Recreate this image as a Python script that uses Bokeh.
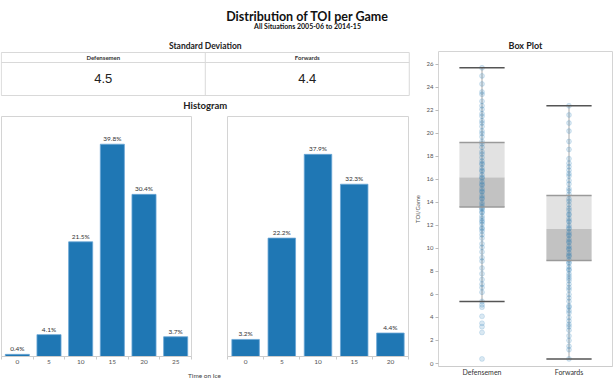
from bokeh.plotting import figure
from bokeh.layouts import column, row
from bokeh.models import Range1d, FactorRange, FixedTicker
from bokeh.embed import file_html
from bokeh.resources import INLINE
from bokeh.core.properties import value

# ---------------- data ----------------
title_text = "Distribution of TOI per Game"
subtitle_text = "All Situations 2005-06 to 2014-15"
positions = ["Defensemen", "Forwards"]
std_dev = [4.5, 4.4]

def_bins = [0, 5, 10, 15, 20, 25]
def_pct = [0.4, 4.1, 21.5, 39.8, 30.4, 3.7]
fwd_bins = [0, 5, 10, 15, 20]
fwd_pct = [3.2, 22.2, 37.9, 32.3, 4.4]

box_low = [5.4, 0.4]
box_q1 = [13.6, 8.95]
box_median = [16.2, 11.7]
box_q3 = [19.2, 14.6]
box_high = [25.7, 22.4]
box_ticks = [0, 2, 4, 6, 8, 10, 12, 14, 16, 18, 20, 22, 24, 26]

def_toi = [0.4, 2.7, 3.2, 3.5, 4.1, 4.9, 5.1, 5.4, 6.2, 6.6, 6.9, 7.3, 7.8, 8.3, 8.9,
           9.2, 9.7, 10.1, 10.4, 10.9, 11.2, 11.5, 11.7, 11.8, 12.1, 12.3, 12.4, 12.6,
           12.8, 13.1, 13.2, 13.4, 13.5, 13.6, 13.8, 14.0, 14.3, 14.4, 14.6, 14.9, 15.0,
           15.2, 15.5, 15.6, 15.8, 16.1, 16.2, 16.4, 16.7, 16.8, 17.0, 17.3, 17.4, 17.6,
           17.9, 18.2, 18.4, 18.8, 19.1, 19.3, 19.7, 20.0, 20.2, 20.6, 20.9, 21.1, 21.5,
           21.7, 22.1, 22.4, 22.8, 23.4, 23.6, 24.3, 25.0, 25.7]
fwd_toi = [0.4, 1.2, 1.5, 2.0, 2.4, 2.9, 3.2, 3.4, 3.7, 4.0, 4.4, 4.6, 4.9, 5.0, 5.4,
           5.7, 6.0, 6.4, 6.6, 6.9, 7.2, 7.4, 7.6, 7.8, 8.1, 8.2, 8.4, 8.7, 8.8, 9.0,
           9.3, 9.4, 9.6, 9.9, 10.0, 10.2, 10.5, 10.6, 10.8, 11.1, 11.2, 11.4, 11.7,
           11.8, 12.0, 12.3, 12.4, 12.6, 12.9, 13.0, 13.3, 13.5, 13.8, 14.1, 14.3, 14.7,
           15.0, 15.2, 15.6, 15.9, 16.3, 16.5, 16.8, 17.1, 17.4, 17.8, 18.6, 19.3,
           20.2, 20.9, 21.6, 22.4]

FONT = "Lato"
BLUE = "#1f77b4"
GRID = "#d9d9d9"


def blank(width, height, xr, yr):
    p = figure(width=width, height=height, x_range=xr, y_range=yr,
               x_axis_type=None, y_axis_type=None, output_backend="svg",
               toolbar_location=None, min_border=0)
    p.outline_line_color = None
    return p


def txt(p, x, y, t, size, bold=False, color="#222", font=FONT, **kw):
    p.text(x=x, y=y, text=t, text_font=value(font), text_font_size=size,
           text_font_style="bold" if bold else "normal", text_color=color,
           text_align="center", text_baseline="middle", **kw)


# ---------------- header ----------------
head = blank(613, 36, Range1d(0, 613), Range1d(0, 36))
txt(head, [307], [20], [title_text], "12.5px", bold=True, color="#111")
txt(head, [307], [11], [subtitle_text], "7px", bold=True, color="#111")

# ---------------- standard deviation table ----------------
sd = blank(410, 76, Range1d(-0.004, 2.006), Range1d(0, 76))
cell_x = [i + 0.5 for i in range(len(positions))]
txt(sd, [1], [67], ["Standard Deviation"], "8.5px", bold=True)
sd.quad(left=[0], right=[2], bottom=[17], top=[60], fill_color=None, line_color=GRID)
sd.segment(x0=[0], y0=[50], x1=[2], y1=[50], line_color=GRID)
sd.segment(x0=[1], y0=[17], x1=[1], y1=[60], line_color=GRID)
txt(sd, cell_x, [55] * len(positions), positions, "6px", bold=True, color="#333")
txt(sd, cell_x, [34] * len(positions), [f"{v}" for v in std_dev], "13px",
    color="#222", font="Liberation Sans")
txt(sd, [1], [7], ["Histogram"], "9.5px", bold=True)


# ---------------- histograms ----------------
def hist(width, bins, pct, mbl, mbr):
    p = figure(width=width, height=256,
               x_range=Range1d(bins[0] - 2.5, bins[-1] + 2.5),
               y_range=Range1d(0, 45), y_axis_type=None,
               output_backend="svg", toolbar_location=None,
               min_border_left=mbl, min_border_right=mbr,
               min_border_top=4, min_border_bottom=12)
    p.xgrid.visible = False
    p.outline_line_color = "#d4d4d4"
    p.vbar(x=bins, top=pct, width=3.8, fill_color=BLUE, line_color="#6aa6d6",
           line_width=0.8)
    p.text(x=bins, y=pct, text=[f"{v}%" for v in pct], text_font=value(FONT),
           text_font_size="6.5px", text_color="#333", text_align="center",
           text_baseline="bottom", y_offset=-2)
    ax = p.xaxis[0]
    ax.ticker = FixedTicker(ticks=bins,
                            minor_ticks=[b - 2.5 for b in bins] + [bins[-1] + 2.5])
    ax.major_label_text_font = FONT
    ax.major_label_text_font_size = "6.5px"
    ax.major_label_text_color = "#555555"
    ax.major_label_standoff = 0
    ax.axis_line_color = "#cccccc"
    ax.major_tick_line_color = None
    ax.major_tick_out = 0
    ax.major_tick_in = 0
    ax.minor_tick_line_color = "#cccccc"
    ax.minor_tick_out = 3
    ax.minor_tick_in = 0
    return p


h_def = hist(213, def_bins, def_pct, 1, 22)
h_fwd = hist(197, fwd_bins, fwd_pct, 14, 2)

xl = blank(410, 10, Range1d(0, 410), Range1d(0, 10))
txt(xl, [204], [5], ["Time on Ice"], "6.5px", color="#444")

# ---------------- box plot ----------------
bx = figure(width=203, height=342, x_range=FactorRange(*positions),
            y_range=Range1d(-0.26, 27.12), output_backend="svg",
            toolbar_location=None, min_border_left=27, min_border_right=1,
            min_border_bottom=9)
bx.grid.visible = False
bx.outline_line_color = "#d4d4d4"
bx.title.text = "Box Plot"
bx.title.align = "center"
bx.title.text_font = FONT
bx.title.text_font_size = "9px"
bx.title.text_color = "#222"
bx.title.standoff = 2
bx.title.offset = -10

bx.vbar(x=positions, bottom=box_q1, top=box_median, width=0.52,
        fill_color="#c2c2c2", line_color=None)
bx.vbar(x=positions, bottom=box_median, top=box_q3, width=0.52,
        fill_color="#e2e2e2", line_color=None)
bx.segment(x0=positions, y0=box_low, x1=positions, y1=box_high,
           line_color="#a8a8a8", line_width=1)
bx.scatter(x=[positions[0]] * len(def_toi), y=def_toi, size=5, fill_color=BLUE,
           fill_alpha=0.17, line_color=BLUE, line_alpha=0.15)
bx.scatter(x=[positions[1]] * len(fwd_toi), y=fwd_toi, size=5, fill_color=BLUE,
           fill_alpha=0.17, line_color=BLUE, line_alpha=0.15)
bx.rect(x=positions, y=box_q3, width=0.52, height=1.5, height_units="screen",
        fill_color="#9a9a9a", line_color=None)
bx.rect(x=positions, y=box_q1, width=0.52, height=1.5, height_units="screen",
        fill_color="#9a9a9a", line_color=None)
bx.rect(x=positions, y=box_high, width=0.52, height=1.5, height_units="screen",
        fill_color="#555555", line_color=None)
bx.rect(x=positions, y=box_low, width=0.52, height=1.5, height_units="screen",
        fill_color="#555555", line_color=None)

ya = bx.yaxis[0]
ya.ticker = FixedTicker(ticks=box_ticks)
ya.axis_label = "TOI/Game"
ya.axis_label_text_font = FONT
ya.axis_label_text_font_size = "6px"
ya.axis_label_text_font_style = "normal"
ya.axis_label_text_color = "#555"
ya.axis_label_standoff = 3
ya.major_label_text_font = FONT
ya.major_label_text_font_size = "6px"
ya.major_label_text_color = "#555"
ya.major_label_standoff = 2
ya.axis_line_color = None
ya.major_tick_line_color = "#bbbbbb"
ya.major_tick_out = 3
ya.major_tick_in = 0
ya.minor_tick_line_color = None

xa = bx.xaxis[0]
xa.major_label_text_font = FONT
xa.major_label_text_font_size = "7px"
xa.major_label_text_color = "#333"
xa.major_label_standoff = 1
xa.axis_line_color = "#cccccc"
xa.major_tick_line_color = None
xa.major_tick_out = 0
xa.major_tick_in = 0

left = column(sd, row(h_def, h_fwd), xl)
layout = column(head, row(left, bx))

open("out.html", "w").write(file_html(layout, INLINE))
